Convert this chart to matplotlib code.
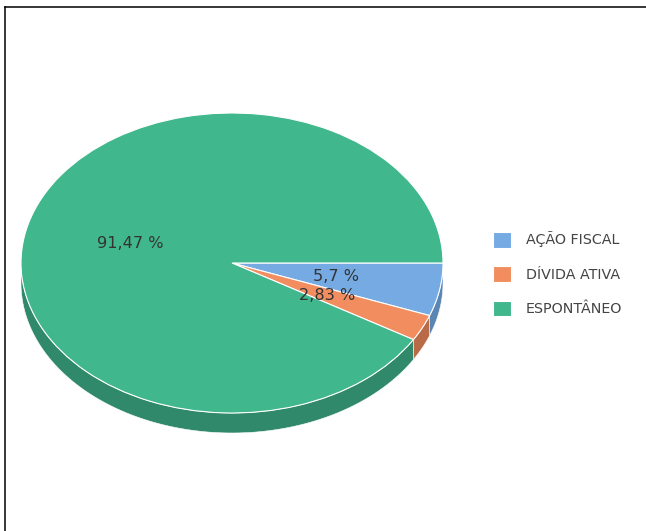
import numpy as np
import matplotlib
matplotlib.use("Agg")
import matplotlib.pyplot as plt
from matplotlib.patches import Polygon
from matplotlib.lines import Line2D

categorias = ["AÇÃO FISCAL", "DÍVIDA ATIVA", "ESPONTÂNEO"]
valores = [5.7, 2.83, 91.47]
cores = ["#75aae3", "#f28d5f", "#40b78d"]
cores_lado = ["#5a86b4", "#b96b48", "#30896a"]

fig = plt.figure(figsize=(6.46, 5.31), dpi=100)
# eixo com escala diferente em x e y para deixar a pizza "deitada"
ax = fig.add_axes([232 / 646 - 211 * 1.09 / 646, 73 / 531, 2 * 211 * 1.09 / 646, 360 / 531])

wedges, texts, autotexts = ax.pie(valores, colors=cores, startangle=0, counterclock=False,
                                  autopct='%1.2f', pctdistance=0.5,
                                  wedgeprops=dict(edgecolor="white", linewidth=0.8, zorder=2),
                                  textprops=dict(color="#333333", fontsize=11.6))
for t, v in zip(autotexts, valores):
    t.set_text(f"{v:g}".replace(".", ",") + " %")
    t.set_zorder(5)

# lateral (profundidade) da pizza
prof = 20 / 150
ang = 0.0
for v, c in zip(valores, cores_lado):
    a1 = ang - v / 100 * 360
    a2 = ang
    ang = a1
    lo = max(a1, -180)
    hi = min(a2, 0)
    if lo >= hi:
        continue
    t = np.radians(np.linspace(lo, hi, 100))
    cima = np.column_stack([np.cos(t), np.sin(t)])
    baixo = np.column_stack([np.cos(t), np.sin(t) - prof])[::-1]
    ax.add_patch(Polygon(np.vstack([cima, baixo]), closed=True, facecolor=c,
                         edgecolor="white", linewidth=0.4, zorder=1))

ax.set_aspect("auto")
ax.set_xlim(-1.09, 1.09)
ax.set_ylim(-1.3, 1.1)
ax.axis("off")

fig.legend(wedges, categorias, loc="center left", bbox_to_anchor=(480 / 646, 1 - 274 / 531),
           frameon=False, fontsize=10.3, handlelength=1.3, handleheight=1.3,
           handletextpad=1.0, labelspacing=1.32, labelcolor="#444444")

# moldura (só topo e esquerda)
fig.add_artist(Line2D([5 / 646, 1], [1 - 7 / 531, 1 - 7 / 531], transform=fig.transFigure,
                      color="black", linewidth=1.1))
fig.add_artist(Line2D([5 / 646, 5 / 646], [0, 1 - 7 / 531], transform=fig.transFigure,
                      color="black", linewidth=1.1))

fig.savefig("out.png", dpi=100)
